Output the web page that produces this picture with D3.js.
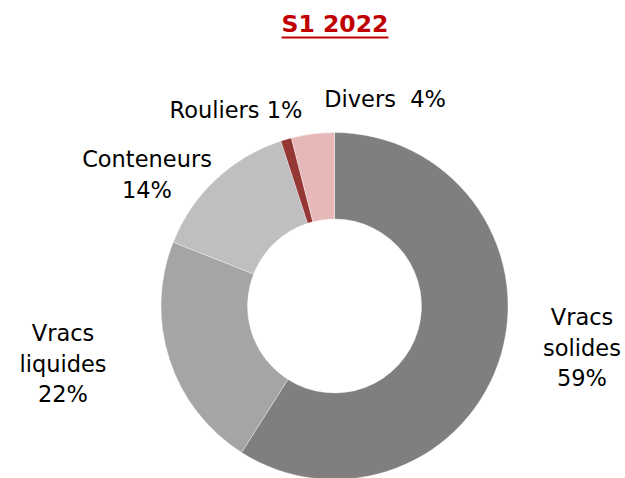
<!DOCTYPE html>
<html>
<head>
<meta charset="utf-8">
<script src="https://cdn.jsdelivr.net/npm/d3@7"></script>
<style>
  body { margin: 0; background: #fff; }
  text { font-family: "DejaVu Sans", sans-serif; }
</style>
</head>
<body>
<svg id="chart" width="625" height="478"></svg>
<script>
'use strict'

const title = 'S1 2022'
const categories = ['Vracs solides', 'Vracs liquides', 'Conteneurs', 'Rouliers', 'Divers']
const values = [59, 22, 14, 1, 4]
const colors = ['#7f7f7f', '#a5a5a5', '#bfbfbf', '#953735', '#e6b9b8']
// label lines per slice, as written on the chart
const labelLines = [
    ['Vracs', 'solides', '59%'],
    ['Vracs', 'liquides', '22%'],
    ['Conteneurs', '14%'],
    ['Rouliers 1%'],
    ['Divers\u00a0 4%']
]
const labelPos = [[582, 325], [63, 341], [147, 167], [236, 118], [385, 107]]

const svg = d3.select('#chart')
const cx = 334.5, cy = 306
const outerR = 173.5, innerR = 87

const pie = d3.pie().sort(null).value((d) => d)
const arc = d3.arc().innerRadius(innerR).outerRadius(outerR)

const g = svg.append('g').attr('transform', `translate(${cx},${cy})`)
g.selectAll('path')
    .data(pie(values))
    .enter()
    .append('path')
    .attr('d', arc)
    .attr('fill', (d, i) => colors[i])
    .attr('stroke', '#fff')
    .attr('stroke-width', 0.35)

// labels
const lbl = svg.selectAll('text.lbl')
    .data(categories)
    .enter()
    .append('text')
    .attr('class', 'lbl')
    .attr('text-anchor', 'middle')
    .attr('font-size', 22.5)
    .attr('fill', '#000')
lbl.each(function (d, i) {
    const t = d3.select(this)
    labelLines[i].forEach((line, k) => {
        t.append('tspan')
            .attr('x', labelPos[i][0])
            .attr('y', labelPos[i][1] + k * 30.5)
            .text(line)
    })
})

// title
const tt = svg.append('text')
    .attr('x', 335)
    .attr('y', 32)
    .attr('text-anchor', 'middle')
    .attr('font-size', 23.5)
    .attr('font-weight', 'bold')
    .attr('fill', '#c00000')
    .text(title)
const bb = tt.node().getBBox()
svg.append('line')
    .attr('x1', bb.x).attr('x2', bb.x + bb.width)
    .attr('y1', 37.5).attr('y2', 37.5)
    .attr('stroke', '#c00000')
    .attr('stroke-width', 2)
</script>
</body>
</html>
